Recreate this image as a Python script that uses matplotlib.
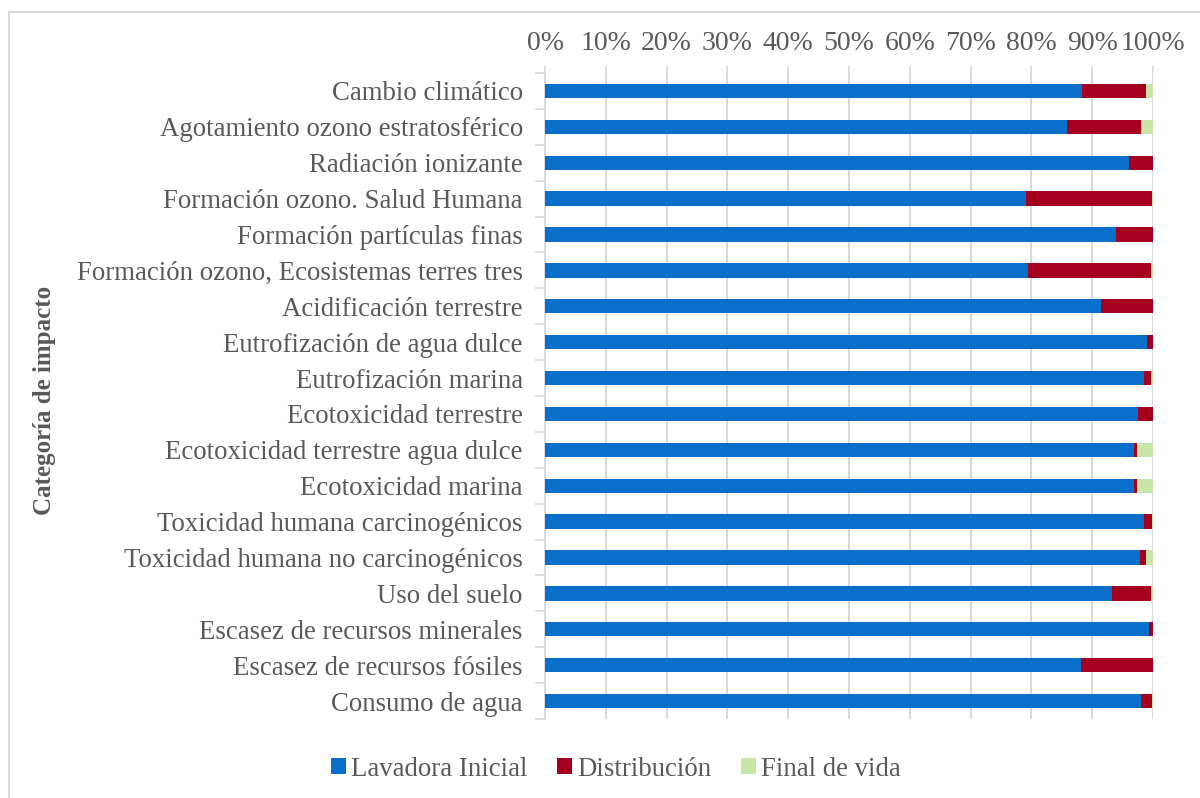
import matplotlib
matplotlib.use("Agg")
import matplotlib.pyplot as plt
from matplotlib.patches import Rectangle
import numpy as np

categories = [
    "Cambio climático",
    "Agotamiento ozono estratosférico",
    "Radiación ionizante",
    "Formación ozono. Salud Humana",
    "Formación partículas finas",
    "Formación ozono, Ecosistemas terres tres",
    "Acidificación terrestre",
    "Eutrofización de agua dulce",
    "Eutrofización marina",
    "Ecotoxicidad terrestre",
    "Ecotoxicidad terrestre agua dulce",
    "Ecotoxicidad marina",
    "Toxicidad humana carcinogénicos",
    "Toxicidad humana no carcinogénicos",
    "Uso del suelo",
    "Escasez de recursos minerales",
    "Escasez de recursos fósiles",
    "Consumo de agua",
]

# Share of each life-cycle stage (%)
lavadora_inicial = [88.3, 85.9, 96.1, 79.1, 93.9, 79.4, 91.4, 99.0, 98.5, 97.5,
                    96.9, 96.9, 98.6, 97.8, 93.3, 99.3, 88.2, 98.0]
distribucion = [10.5, 12.2, 3.9, 20.7, 6.1, 20.3, 8.6, 1.0, 1.2, 2.5,
                0.5, 0.5, 1.2, 1.0, 6.3, 0.7, 11.8, 1.8]
final_de_vida = [1.2, 1.9, 0.0, 0.2, 0.0, 0.3, 0.0, 0.0, 0.3, 0.0,
                 2.6, 2.6, 0.2, 1.2, 0.4, 0.0, 0.0, 0.2]

series_names = ["Lavadora Inicial", "Distribución", "Final de vida"]
colors = ["#0A6FCB", "#A5001E", "#C8E6A8"]

text_color = "#595959"
font = "Liberation Serif"

fig = plt.figure(figsize=(12, 7.98), dpi=100)
fig.patch.set_facecolor("white")

# light frame around the chart area
fig.patches.append(Rectangle((9 / 1200, -0.05), 1.2, 1 - 12 / 798 + 0.05,
                             transform=fig.transFigure, fill=False,
                             edgecolor="#D9D9D9", linewidth=1.5))

ax = fig.add_axes([545 / 1200, 1 - 719 / 798, 608 / 1200, (719 - 73) / 798])

y = np.arange(len(categories))
data = np.array([lavadora_inicial, distribucion, final_de_vida])
totals = data.sum(axis=0)
shares = data / totals * 100
left = np.zeros(len(categories))
for vals, name, c in zip(shares, series_names, colors):
    ax.barh(y, vals, left=left, height=0.4, color=c, label=name, zorder=3)
    left += vals

ax.set_xlim(0, 100)
ax.set_ylim(len(categories) - 0.5, -0.5)

ax.xaxis.tick_top()
ax.set_xticks(np.arange(0, 101, 10))
ax.set_xticklabels([f"{v}%" for v in range(0, 101, 10)])
ax.tick_params(axis="x", which="major", length=5, width=1.2, color="#D9D9D9",
               pad=7, labelsize=20, labelcolor=text_color)
ax.grid(axis="x", color="#D9D9D9", linewidth=1.5, zorder=0)

ax.set_yticks(y)
ax.set_yticklabels(categories)
ax.set_yticks(np.arange(-0.5, len(categories), 1), minor=True)
ax.tick_params(axis="y", which="major", length=0, pad=16, labelsize=19.3,
               labelcolor=text_color)
ax.tick_params(axis="y", which="minor", length=7, width=1.2, color="#D9D9D9")

for lab in ax.get_xticklabels() + ax.get_yticklabels():
    lab.set_fontfamily(font)

for side in ["top", "right", "bottom"]:
    ax.spines[side].set_visible(False)
ax.spines["left"].set_color("#D9D9D9")
ax.spines["left"].set_linewidth(1.5)

fig.text(45 / 1200, 1 - 400 / 798, "Categoría de impacto", rotation=90,
         ha="center", va="center", fontsize=18, fontweight="bold",
         color=text_color, family=font)

leg = fig.legend(loc="center", bbox_to_anchor=(616 / 1200, 1 - 769 / 798),
                 ncol=3, frameon=False, handlelength=0.55,
                 handleheight=0.55, handletextpad=0.2, columnspacing=1.1,
                 prop={"family": font, "size": 19.3})
for t in leg.get_texts():
    t.set_color(text_color)

fig.savefig("out.png", dpi=100, facecolor="white")
